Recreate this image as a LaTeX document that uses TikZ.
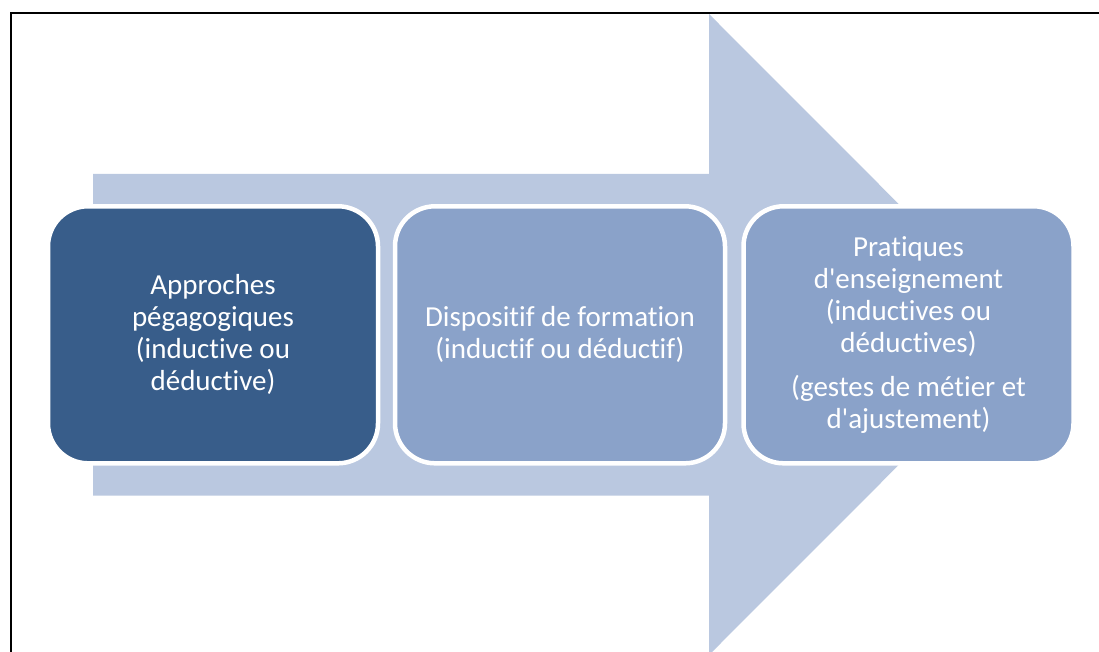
\documentclass[tikz,border=0pt]{standalone}
\usepackage{fontspec}
\newfontfamily\boxfont{Carlito}[Ligatures=NoCommon]
\definecolor{arrowfill}{HTML}{BAC8E0}
\definecolor{darkbox}{HTML}{385D8A}
\definecolor{lightbox}{HTML}{8AA2C9}
\tikzset{
  stagebox/.style={draw=white, line width=4.5pt, rounded corners=40pt,
    minimum width=330pt, minimum height=257pt, inner sep=0pt,
    text=white, align=center, font=\boxfont\fontsize{29}{32}\selectfont},
}
\begin{document}
\begin{tikzpicture}[x=1pt,y=-1pt]
\useasboundingbox (0,0) rectangle (1099,652);
\fill[white] (0,0) rectangle (1099,652);
\draw[black, line width=2pt] (10.5,13.5) rectangle (1120,680);
\fill[arrowfill] (93,174) -- (709,174) -- (709,14) -- (1029,334.5) -- (709,655) -- (709,495.5) -- (93,495.5) -- cycle;
\node[stagebox, fill=darkbox] (b1) at (213,334.8) {Approches\\pégagogiques\\(inductive ou\\déductive)};
\node[stagebox, fill=lightbox] (b2) at (560,334.8) {Dispositif de formation\\(inductif ou déductif)};
\node[stagebox, fill=lightbox] (b3) at (908.5,334.8) {Pratiques\\d'enseignement\\(inductives ou\\déductives)\\[12pt](gestes de métier et\\d'ajustement)};
\end{tikzpicture}
\end{document}
